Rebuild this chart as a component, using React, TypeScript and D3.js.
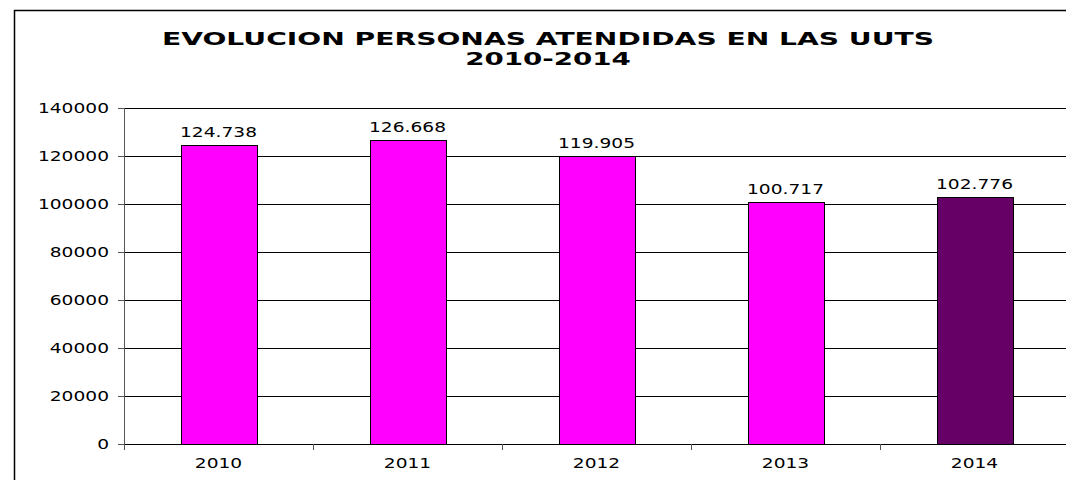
import React, { useEffect, useRef } from 'react';
import * as d3 from 'd3';

const years = ['2010', '2011', '2012', '2013', '2014'];
const personas = [124738, 126668, 119905, 100717, 102776];
const barColors = ['#ff00ff', '#ff00ff', '#ff00ff', '#ff00ff', '#660066'];
const yTicks = [0, 20000, 40000, 60000, 80000, 100000, 120000, 140000];
const titleLines = ['EVOLUCION PERSONAS ATENDIDAS EN LAS UUTS', '2010-2014'];

const W = 1066;
const H = 480;
const FONT = 'Verdana, "DejaVu Sans", sans-serif';

const App = () => {
  const svgRef = useRef<SVGSVGElement>(null);

  useEffect(() => {
    const svg = d3.select(svgRef.current);
    svg.selectAll('*').remove();

    const left = 124;
    const right = 1069;
    const top = 108;
    const bottom = 444;

    // outer chart border, only left and top edges are inside the picture
    svg
      .append('path')
      .attr('d', `M14.5,${H} V10.5 H${W}`)
      .attr('fill', 'none')
      .attr('stroke', '#000')
      .attr('stroke-width', 1.5);

    // title, text is stretched wide like the original
    const titleScale = [1.565, 1.54];
    svg
      .selectAll('.title')
      .data(titleLines)
      .join('text')
      .attr('class', 'title')
      .attr('transform', (d, i) => `translate(548, ${45 + i * 20}) scale(${titleScale[i]}, 1)`)
      .attr('text-anchor', 'middle')
      .style('font-family', FONT)
      .style('font-weight', 'bold')
      .style('font-size', '18px')
      .text((d) => d);

    const x = d3
      .scaleBand()
      .domain(years)
      .range([left, right])
      .paddingInner(0.6)
      .paddingOuter(0.3);
    const y = d3.scaleLinear().domain([0, 140000]).range([bottom, top]);

    const g = svg.append('g').attr('shape-rendering', 'crispEdges');

    // gridlines
    g.selectAll('.grid')
      .data(yTicks)
      .join('line')
      .attr('x1', left)
      .attr('x2', right)
      .attr('y1', (d) => Math.round(y(d)) + 0.5)
      .attr('y2', (d) => Math.round(y(d)) + 0.5)
      .attr('stroke', '#000');

    // y axis line + ticks
    g.append('line')
      .attr('x1', left + 0.5)
      .attr('x2', left + 0.5)
      .attr('y1', top)
      .attr('y2', bottom)
      .attr('stroke', '#555');
    g.selectAll('.ytick')
      .data(yTicks)
      .join('line')
      .attr('x1', left - 6)
      .attr('x2', left)
      .attr('y1', (d) => Math.round(y(d)) + 0.5)
      .attr('y2', (d) => Math.round(y(d)) + 0.5)
      .attr('stroke', '#555');

    // x axis ticks at category boundaries
    const step = x.step();
    g.selectAll('.xtick')
      .data(d3.range(years.length + 1))
      .join('line')
      .attr('x1', (i) => Math.round(left + i * step) + 0.5)
      .attr('x2', (i) => Math.round(left + i * step) + 0.5)
      .attr('y1', bottom)
      .attr('y2', bottom + 6)
      .attr('stroke', '#555');

    // bars
    g.selectAll('.bar')
      .data(personas)
      .join('rect')
      .attr('x', (d, i) => Math.round(x(years[i])!) + 0.5)
      .attr('y', (d) => Math.round(y(d)) + 0.5)
      .attr('width', Math.round(x.bandwidth()))
      .attr('height', (d) => Math.round(bottom - y(d)))
      .attr('fill', (d, i) => barColors[i])
      .attr('stroke', '#000');

    // y tick labels
    svg
      .selectAll('.ylab')
      .data(yTicks)
      .join('text')
      .attr('transform', (d) => `translate(109, ${y(d) + 5}) scale(1.33, 1)`)
      .attr('text-anchor', 'end')
      .style('font-family', FONT)
      .style('font-size', '14px')
      .text((d) => String(d));

    // category labels
    svg
      .selectAll('.xlab')
      .data(years)
      .join('text')
      .attr('transform', (d) => `translate(${x(d)! + x.bandwidth() / 2}, 468) scale(1.33, 1)`)
      .attr('text-anchor', 'middle')
      .style('font-family', FONT)
      .style('font-size', '14px')
      .text((d) => d);

    // value labels above bars
    const fmt = (v: number) => d3.format(',')(v).replace(/,/g, '.');
    svg
      .selectAll('.vlab')
      .data(personas)
      .join('text')
      .attr(
        'transform',
        (d, i) => `translate(${x(years[i])! + x.bandwidth() / 2}, ${y(d) - 8}) scale(1.33, 1)`
      )
      .attr('text-anchor', 'middle')
      .style('font-family', FONT)
      .style('font-size', '14px')
      .text((d) => fmt(d));
  }, []);

  return (
    <svg
      ref={svgRef}
      width={W}
      height={H}
      style={{ position: 'absolute', left: 0, top: 0, background: '#fff' }}
    ></svg>
  );
};

export default App;
